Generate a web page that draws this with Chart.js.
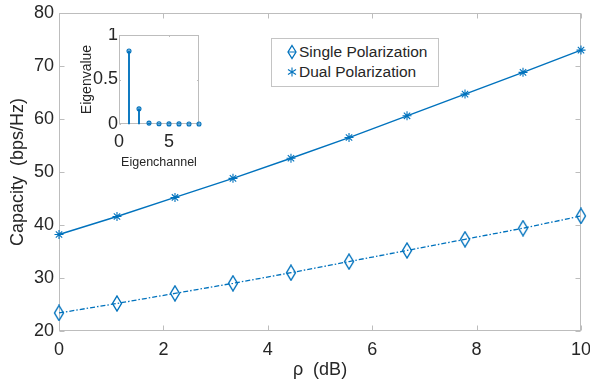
<!DOCTYPE html>
<html lang="en">
  <head>
    <meta charset="UTF-8" />
    <title>Capacity vs rho</title>
    <script src="https://cdn.jsdelivr.net/npm/chart.js"></script>
    <style>
      body {
        margin: 0;
        background: #fff;
        font-family: "Liberation Sans", Arial, sans-serif;
      }
      #wrap {
        position: relative;
        width: 590px;
        height: 392px;
      }
      #main {
        position: absolute;
        left: 0;
        top: 0;
      }
      #inset {
        position: absolute;
        left: 70px;
        top: 28px;
      }
      .legend {
        position: absolute;
        left: 271px;
        top: 38px;
        width: 168px;
        height: 49px;
        box-sizing: border-box;
        border: 1px solid #c4c4c4;
        background: #fff;
        color: #262626;
        font-size: 15.5px;
      }
      .legend .row {
        position: absolute;
        left: 14px;
        height: 18px;
        line-height: 18px;
        white-space: nowrap;
      }
      .legend svg {
        vertical-align: -3px;
        margin-right: 1px;
      }
    </style>
  </head>
  <body>
    <div id="wrap">
      <canvas id="main" width="590" height="392"></canvas>
      <canvas id="inset" width="140" height="150"></canvas>
      <div class="legend">
        <div class="row" style="top: 4px">
          <svg width="12" height="16" viewBox="0 0 12 16">
            <polygon points="6,1.5 10,8 6,14.5 2,8" fill="none" stroke="#0072BD" stroke-width="1.3" />
            <line x1="2" y1="8" x2="10" y2="8" stroke="#0072BD" stroke-width="1" />
          </svg>Single Polarization
        </div>
        <div class="row" style="top: 24px">
          <svg width="12" height="16" viewBox="0 0 12 16">
            <g stroke="#0072BD" stroke-width="1.1">
              <line x1="6" y1="3.5" x2="6" y2="12.5" />
              <line x1="2" y1="5.5" x2="10" y2="10.5" />
              <line x1="2" y1="10.5" x2="10" y2="5.5" />
            </g>
          </svg>Dual Polarization
        </div>
      </div>
    </div>

    <script>
      // main plot
      const rhoDb = [0, 1.111, 2.222, 3.333, 4.444, 5.556, 6.667, 7.778, 8.889, 10];
      const singlePol = [23.4, 25.2, 27.1, 29.0, 31.0, 33.1, 35.2, 37.3, 39.4, 41.7];
      const dualPol = [38.2, 41.6, 45.2, 48.8, 52.6, 56.5, 60.6, 64.7, 68.8, 73.0];
      const xTicks = [0, 2, 4, 6, 8, 10];
      const yTicks = [20, 30, 40, 50, 60, 70, 80];

      // inset stem plot
      const eigChannels = [1, 2, 3, 4, 5, 6, 7, 8];
      const eigValues = [0.82, 0.17, 0.01, 0.002, 0.001, 0.001, 0, 0];
      const insetXTicks = [0, 5];
      const insetYTicks = [0, 0.5, 1];

      const blue = "#0072BD";
      const axisGray = "#bdbdbd";
      const textColor = "#262626";
      const fontFam = "'Liberation Sans', Arial, sans-serif";

      const boxPlugin = {
        id: "box",
        beforeDatasetsDraw(chart, args, opts) {
          const { ctx, chartArea: a, scales } = chart;
          const l = Math.round(a.left) + 0.5;
          const r = Math.round(a.right) - 0.5;
          const t = Math.round(a.top) + 0.5;
          const b = Math.round(a.bottom) - 0.5;
          ctx.save();
          ctx.strokeStyle = opts.color;
          ctx.lineWidth = 1;
          ctx.strokeRect(l, t, r - l, b - t);
          const len = opts.tick;
          ctx.beginPath();
          scales.x.ticks.forEach((tk) => {
            const px = Math.round(scales.x.getPixelForValue(tk.value)) + 0.5;
            ctx.moveTo(px, b);
            ctx.lineTo(px, b - len);
            ctx.moveTo(px, t);
            ctx.lineTo(px, t + len);
          });
          scales.y.ticks.forEach((tk) => {
            const py = Math.round(scales.y.getPixelForValue(tk.value)) + 0.5;
            ctx.moveTo(l, py);
            ctx.lineTo(l + len, py);
            ctx.moveTo(r, py);
            ctx.lineTo(r - len, py);
          });
          ctx.stroke();
          ctx.restore();
        },
      };

      // tall hollow diamond like matlab's 'd' marker
      function diamondMarker() {
        const c = document.createElement("canvas");
        c.width = 12;
        c.height = 17;
        const g = c.getContext("2d");
        g.strokeStyle = blue;
        g.lineWidth = 1.4;
        g.beginPath();
        g.moveTo(6, 1);
        g.lineTo(10.5, 8.5);
        g.lineTo(6, 16);
        g.lineTo(1.5, 8.5);
        g.closePath();
        g.stroke();
        return c;
      }

      function setTicks(list) {
        return (scale) => {
          scale.ticks = list.map((v) => ({ value: v }));
        };
      }

      // fixed box sizes so the plot area lands where the figure has it
      function fixHeight(h) {
        return (s) => {
          s.height = h;
          s.paddingLeft = 0;
          s.paddingRight = 0;
        };
      }
      function fixWidth(w) {
        return (s) => {
          s.width = w;
          s.paddingTop = 0;
          s.paddingBottom = 0;
        };
      }

      new Chart(document.getElementById("main"), {
        type: "line",
        data: {
          datasets: [
            {
              label: "Single Polarization",
              data: rhoDb.map((x, i) => ({ x: x, y: singlePol[i] })),
              borderColor: blue,
              borderWidth: 1.3,
              borderDash: [5, 2, 1.5, 2],
              pointStyle: diamondMarker(),
              pointRadius: 6,
              clip: false,
            },
            {
              label: "Dual Polarization",
              data: rhoDb.map((x, i) => ({ x: x, y: dualPol[i] })),
              borderColor: blue,
              borderWidth: 1.4,
              pointStyle: "star",
              pointRadius: 4.5,
              pointBorderWidth: 1.1,
              pointBorderColor: blue,
              clip: false,
            },
          ],
        },
        options: {
          responsive: false,
          animation: false,
          devicePixelRatio: 1,
          layout: { padding: { top: 13, right: 9, left: 0, bottom: 0 } },
          plugins: {
            legend: { display: false },
            tooltip: { enabled: false },
            box: { color: axisGray, tick: 5 },
          },
          scales: {
            x: {
              type: "linear",
              min: 0,
              max: 10,
              afterBuildTicks: setTicks(xTicks),
              afterFit: fixHeight(61),
              grid: { display: false, drawTicks: false },
              border: { display: false },
              ticks: {
                color: textColor,
                padding: 8,
                maxRotation: 0,
                font: { family: fontFam, size: 18 },
              },
              title: {
                display: true,
                text: "ρ  (dB)",
                color: textColor,
                font: { family: fontFam, size: 18 },
                padding: { top: 0, bottom: 11 },
              },
            },
            y: {
              min: 20,
              max: 80,
              afterBuildTicks: setTicks(yTicks),
              afterFit: fixWidth(59),
              grid: { display: false, drawTicks: false },
              border: { display: false },
              ticks: {
                color: textColor,
                padding: 5,
                font: { family: fontFam, size: 18 },
              },
              title: {
                display: true,
                text: "Capacity  (bps/Hz)",
                color: textColor,
                font: { family: fontFam, size: 18 },
                padding: { top: 7, bottom: 0 },
              },
            },
          },
        },
        plugins: [boxPlugin],
      });

      new Chart(document.getElementById("inset"), {
        type: "bar",
        data: {
          datasets: [
            {
              type: "bar",
              data: eigChannels.map((x, i) => ({ x: x, y: eigValues[i] })),
              backgroundColor: blue,
              barThickness: 1.2,
              clip: false,
            },
            {
              type: "line",
              data: eigChannels.map((x, i) => ({ x: x, y: eigValues[i] })),
              showLine: false,
              pointStyle: "circle",
              pointRadius: 2,
              pointBorderWidth: 1.1,
              pointBorderColor: blue,
              pointBackgroundColor: "rgba(0,114,189,0.45)",
              clip: false,
            },
          ],
        },
        options: {
          responsive: false,
          animation: false,
          devicePixelRatio: 1,
          layout: { padding: { top: 7, right: 11, left: 0, bottom: 0 } },
          plugins: {
            legend: { display: false },
            tooltip: { enabled: false },
            box: { color: axisGray, tick: 1.5 },
          },
          scales: {
            x: {
              type: "linear",
              min: 0,
              max: 8,
              offset: false,
              afterBuildTicks: setTicks(insetXTicks),
              afterFit: fixHeight(54),
              grid: { display: false, drawTicks: false },
              border: { display: false },
              ticks: {
                color: textColor,
                padding: 7,
                maxRotation: 0,
                font: { family: fontFam, size: 18 },
              },
              title: {
                display: true,
                text: "Eigenchannel",
                color: textColor,
                font: { family: fontFam, size: 12.5 },
                padding: { top: 0, bottom: 8 },
              },
            },
            y: {
              min: 0,
              max: 1,
              afterBuildTicks: setTicks(insetYTicks),
              afterFit: fixWidth(49),
              grid: { display: false, drawTicks: false },
              border: { display: false },
              ticks: {
                color: textColor,
                padding: 1,
                font: { family: fontFam, size: 18 },
                callback: (v) => String(v),
              },
              title: {
                display: true,
                text: "Eigenvalue",
                color: textColor,
                font: { family: fontFam, size: 14 },
                padding: { top: 9, bottom: 0 },
              },
            },
          },
        },
        plugins: [boxPlugin],
      });
    </script>
  </body>
</html>
